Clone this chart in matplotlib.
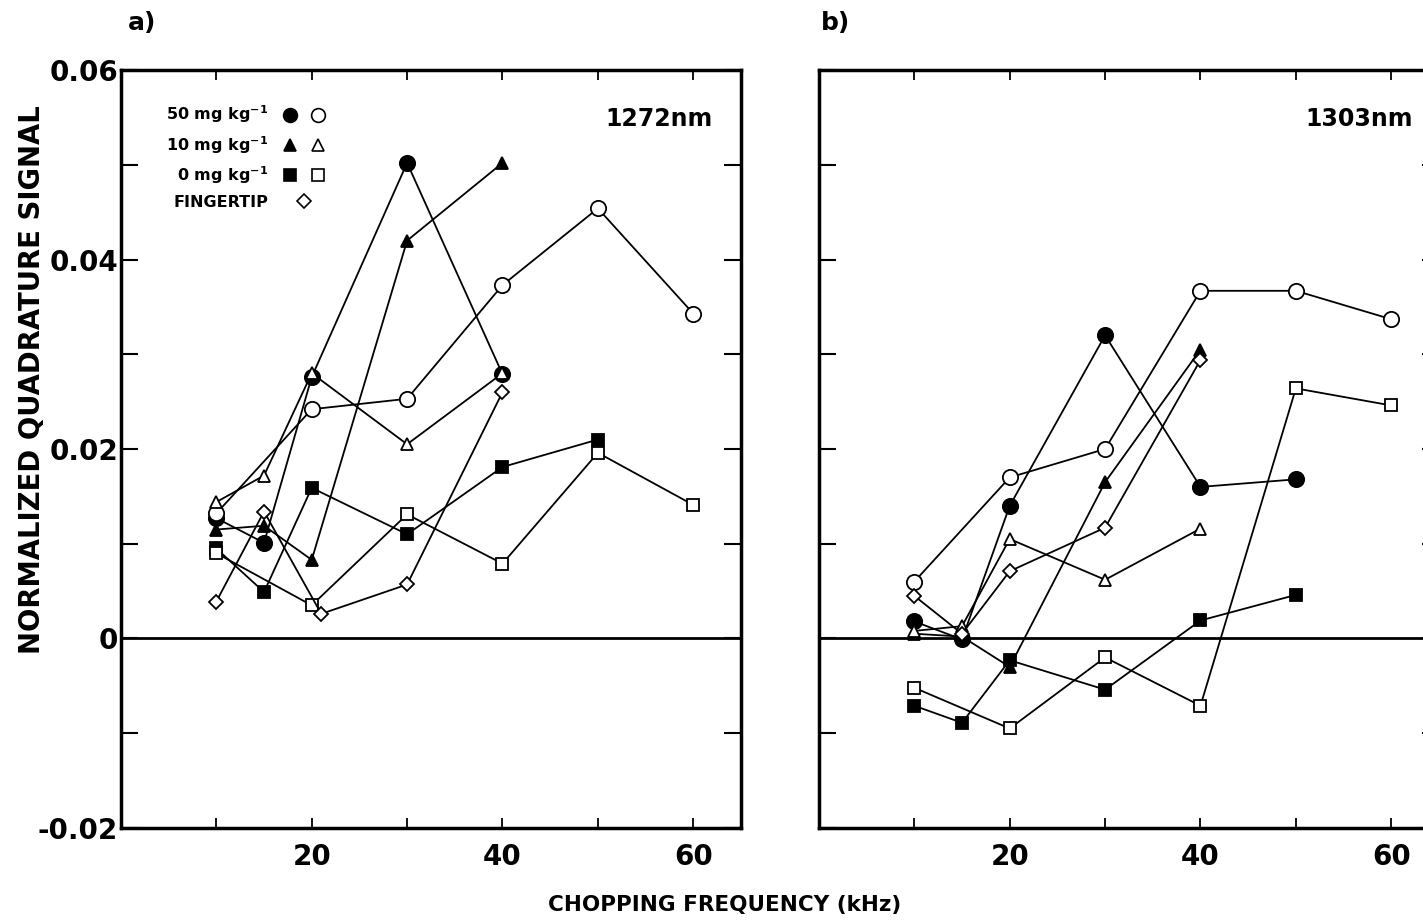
import matplotlib
matplotlib.use('Agg')
import matplotlib.pyplot as plt
from matplotlib.lines import Line2D
from matplotlib.legend_handler import HandlerTuple

plt.rcParams['font.family'] = ['DejaVu Sans']
plt.rcParams['font.weight'] = 'bold'
plt.rcParams['mathtext.fontset'] = 'dejavusans'
plt.rcParams['mathtext.default'] = 'bf'

# 1272 nm measurements (chopping frequency in kHz, normalized quadrature signal)
a_f50_x = [10, 15, 20, 30, 40]
a_f50_y = [0.0127, 0.0101, 0.0276, 0.0502, 0.0279]
a_o50_x = [10, 20, 30, 40, 50, 60]
a_o50_y = [0.0132, 0.0242, 0.0253, 0.0373, 0.0454, 0.0343]
a_f10_x = [10, 15, 20, 30, 40]
a_f10_y = [0.0115, 0.0119, 0.0083, 0.0420, 0.0502]
a_o10_x = [10, 15, 20, 30, 40]
a_o10_y = [0.0144, 0.0172, 0.0280, 0.0205, 0.0280]
a_f0_x = [10, 15, 20, 30, 40, 50]
a_f0_y = [0.0095, 0.0049, 0.0159, 0.0110, 0.0181, 0.0210]
a_o0_x = [10, 20, 30, 40, 50, 60]
a_o0_y = [0.0090, 0.0035, 0.0131, 0.0079, 0.0196, 0.0141]
a_tip_x = [10, 15, 21, 30, 40]
a_tip_y = [0.0039, 0.0134, 0.0026, 0.0057, 0.0260]

# 1303 nm measurements
b_f50_x = [10, 15, 20, 30, 40, 50]
b_f50_y = [0.0018, -0.0001, 0.0140, 0.0320, 0.0160, 0.0168]
b_o50_x = [10, 20, 30, 40, 50, 60]
b_o50_y = [0.0060, 0.0170, 0.0200, 0.0367, 0.0367, 0.0337]
b_f10_x = [10, 15, 20, 30, 40]
b_f10_y = [0.0005, 0.0002, -0.0030, 0.0165, 0.0305]
b_o10_x = [10, 15, 20, 30, 40]
b_o10_y = [0.0008, 0.0013, 0.0105, 0.0062, 0.0116]
b_f0_x = [10, 15, 20, 30, 40, 50]
b_f0_y = [-0.0071, -0.0089, -0.0023, -0.0054, 0.0019, 0.0046]
b_o0_x = [10, 20, 30, 40, 50, 60]
b_o0_y = [-0.0052, -0.0095, -0.0020, -0.0071, 0.0264, 0.0246]
b_tip_x = [10, 15, 20, 30, 40]
b_tip_y = [0.0045, 0.0005, 0.0071, 0.0117, 0.0294]

xticks = [10, 20, 30, 40, 50, 60]
xticklabels = ['', '20', '', '40', '', '60']
yticks = [-0.02, -0.01, 0, 0.01, 0.02, 0.03, 0.04, 0.05, 0.06]
yticklabels = ['-0.02', '', '0', '', '0.02', '', '0.04', '', '0.06']

legend_labels = ['50 mg kg$^{-1}$', '10 mg kg$^{-1}$', '0 mg kg$^{-1}$', 'FINGERTIP']

styles = {
    'f50': dict(marker='o', ms=11, mfc='k'),
    'o50': dict(marker='o', ms=11, mfc='white'),
    'f10': dict(marker='^', ms=9, mfc='k'),
    'o10': dict(marker='^', ms=9, mfc='white'),
    'f0': dict(marker='s', ms=9, mfc='k'),
    'o0': dict(marker='s', ms=9, mfc='white'),
    'tip': dict(marker='D', ms=7.5, mfc='white'),
}


def draw_panel(ax, series):
    ax.axhline(0, color='k', lw=2, zorder=1)
    for key, x, y in series:
        ax.plot(x, y, color='k', lw=1.3, mec='k', mew=1.3, zorder=3, **styles[key])
    ax.set_xlim(0, 65)
    ax.set_ylim(-0.02, 0.06)
    ax.set_xticks(xticks)
    ax.set_xticklabels(xticklabels, fontsize=20)
    ax.set_yticks(yticks)
    ax.tick_params(axis='x', direction='in', length=7, width=1.3, pad=11,
                   top=True, bottom=True)
    ax.tick_params(axis='y', direction='in', length=12.5, width=1.5, pad=2,
                   left=True, right=True)
    for sp in ax.spines.values():
        sp.set_linewidth(2.5)


fig = plt.figure(figsize=(14.23, 9.22), dpi=100)
ax1 = fig.add_axes([0.085, 0.102, 0.4357, 0.822])
ax2 = fig.add_axes([0.5755, 0.102, 0.4357, 0.822])

draw_panel(ax1, [('f50', a_f50_x, a_f50_y), ('o50', a_o50_x, a_o50_y),
                 ('f10', a_f10_x, a_f10_y), ('o10', a_o10_x, a_o10_y),
                 ('f0', a_f0_x, a_f0_y), ('o0', a_o0_x, a_o0_y),
                 ('tip', a_tip_x, a_tip_y)])
draw_panel(ax2, [('f50', b_f50_x, b_f50_y), ('o50', b_o50_x, b_o50_y),
                 ('f10', b_f10_x, b_f10_y), ('o10', b_o10_x, b_o10_y),
                 ('f0', b_f0_x, b_f0_y), ('o0', b_o0_x, b_o0_y),
                 ('tip', b_tip_x, b_tip_y)])

ax1.set_yticklabels(yticklabels, fontsize=20)
ax2.set_yticklabels([])

ax1.text(0.955, 0.935, '1272nm', transform=ax1.transAxes, fontsize=17,
         ha='right', va='center')
ax2.text(0.958, 0.935, '1303nm', transform=ax2.transAxes, fontsize=17,
         ha='right', va='center')

# legend: label, then filled and open symbol
def proxy(key):
    return Line2D([], [], ls='none', color='k', mec='k', mew=1.2, **styles[key])

handles = [(proxy('f50'), proxy('o50')), (proxy('f10'), proxy('o10')),
           (proxy('f0'), proxy('o0')), proxy('tip')]
ax1.legend(handles, legend_labels, loc='upper left', bbox_to_anchor=(0.05, 0.975),
           frameon=False, markerfirst=False, fontsize=11.5, markerscale=0.9,
           handlelength=3.5, handletextpad=0.5, labelspacing=0.55,
           handler_map={tuple: HandlerTuple(ndivide=None, pad=0)})

fig.text(0.1, 0.975, 'a)', fontsize=18, ha='center', va='center')
fig.text(0.587, 0.975, 'b)', fontsize=18, ha='center', va='center')
fig.text(0.0225, 0.588, 'NORMALIZED QUADRATURE SIGNAL', fontsize=19.8,
         rotation=90, ha='center', va='center')
fig.text(0.509, 0.018, 'CHOPPING FREQUENCY (kHz)', fontsize=15.5,
         ha='center', va='center')

fig.savefig('out.png', dpi=100)
